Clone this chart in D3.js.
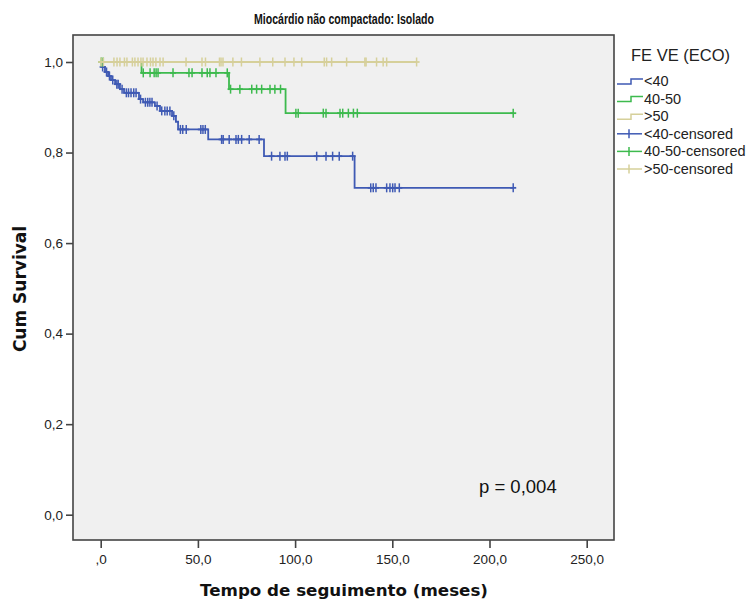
<!DOCTYPE html>
<html>
<head>
<meta charset="utf-8">
<script src="https://cdn.jsdelivr.net/npm/d3@7"></script>
<style>
  html, body { margin: 0; padding: 0; background: #ffffff; }
  svg { display: block; }
</style>
</head>
<body>
<svg id="chart" width="752" height="600"></svg>
<script>
// Kaplan–Meier survival by left-ventricular ejection fraction group
const groupNames = ["<40", "40-50", ">50"];
const groupColors = ["#3f5ab4", "#3dba4e", "#d6d09a"];

// <40: event times (months) and survival after each event
const lt40EventTimes = [0.7, 2.2, 3.8, 5.3, 7.4, 9.9, 12.0, 19.7, 21.8, 27.9, 30.5, 36.7, 38.7, 39.8, 55.3, 84.0, 130.6];
const lt40Survival   = [0.989, 0.978, 0.969, 0.960, 0.951, 0.940, 0.932, 0.918, 0.911, 0.903, 0.892, 0.881, 0.868, 0.851, 0.829, 0.792, 0.722];
const lt40Censored   = [1.0, 3.0, 4.5, 6.2, 8.3, 9.0, 11.0, 13.2, 14.3, 15.6, 17.0, 18.2, 20.5, 23.0, 24.2, 25.3, 26.4, 29.0, 31.4, 33.0, 34.2, 35.6, 37.6, 41.0, 42.2, 44.0, 51.5, 52.6, 53.8,
                        62.2, 63.0, 66.1, 69.6, 70.8, 72.5, 76.4, 81.5,
                        87.9, 92.2, 94.8, 96.0, 111.1, 115.9, 119.3, 122.7, 129.6,
                        138.9, 140.2, 141.6, 147.1, 148.8, 150.2, 151.4, 153.6, 212.2];

// 40-50
const mid40EventTimes = [21.0, 66.0, 95.1];
const mid40Survival   = [0.976, 0.940, 0.887];
const mid40Censored   = [0.3, 1.2, 21.9, 25.4, 27.5, 28.5, 29.5, 37.2, 45.4, 47.0, 52.1, 54.8, 56.2, 59.3, 65.1,
                         66.8, 71.6, 77.7, 80.2, 82.8, 87.1, 89.6, 92.5,
                         100.4, 101.6, 114.5, 115.9, 123.1, 124.5, 127.4, 130.0, 132.0, 212.2];

// >50 (no events)
const gt50EventTimes = [];
const gt50Survival   = [];
const gt50Censored   = [0.2, 1.4, 6.8, 8.4, 9.9, 12.2, 13.5, 16.3, 17.6, 19.2, 20.7, 21.8, 23.8, 25.6, 26.9, 28.4, 30.5, 32.1,
                        43.9, 52.1, 53.9, 61.1, 61.9, 62.9, 68.0, 72.4, 81.9, 88.5, 94.8, 99.4, 103.4,
                        115.0, 116.2, 118.8, 126.5, 135.9, 136.5, 141.9, 145.3, 147.1, 162.5];

const xTicks = [0, 50, 100, 150, 200, 250];
const yTicks = [0, 0.2, 0.4, 0.6, 0.8, 1.0];

const chartTitle = "Miocárdio não compactado: Isolado";
const xTitle = "Tempo de seguimento (meses)";
const yTitle = "Cum Survival";
const legendTitle = "FE VE (ECO)";
const pValueText = "p = 0,004";

const series = [
  { name: groupNames[0], color: groupColors[0], times: lt40EventTimes, surv: lt40Survival, cens: lt40Censored },
  { name: groupNames[1], color: groupColors[1], times: mid40EventTimes, surv: mid40Survival, cens: mid40Censored },
  { name: groupNames[2], color: groupColors[2], times: gt50EventTimes, surv: gt50Survival, cens: gt50Censored }
];

const svg = d3.select("#chart");

// plot frame
const frame = { left: 73, top: 35, right: 614, bottom: 540 };
const x = d3.scaleLinear().domain([0, 250]).range([100.7, 586.7]);
const y = d3.scaleLinear().domain([0, 1]).range([514.7, 62]);

const commaFmt = v => d3.format(".1f")(v).replace(".", ",");

svg.append("rect")
  .attr("x", frame.left).attr("y", frame.top)
  .attr("width", frame.right - frame.left).attr("height", frame.bottom - frame.top)
  .attr("fill", "#f0f0f0");

// axes
const xAxis = d3.axisBottom(x)
  .tickValues(xTicks)
  .tickSize(8)
  .tickSizeOuter(0)
  .tickPadding(4)
  .tickFormat(v => v === 0 ? ",0" : commaFmt(v));
const gx = svg.append("g").attr("transform", `translate(0,${frame.bottom})`).call(xAxis);
gx.select(".domain").remove();
gx.selectAll(".tick line").attr("stroke", "#444").attr("stroke-width", 1.6);
gx.selectAll(".tick text")
  .attr("font-family", "Liberation Sans, Arial, sans-serif")
  .attr("font-size", 13.5).attr("fill", "#222").attr("dy", "0.9em");

const yAxis = d3.axisLeft(y)
  .tickValues(yTicks)
  .tickSize(7)
  .tickSizeOuter(0)
  .tickPadding(3)
  .tickFormat(commaFmt);
const gy = svg.append("g").attr("transform", `translate(${frame.left},0)`).call(yAxis);
gy.select(".domain").remove();
gy.selectAll(".tick line").attr("stroke", "#444").attr("stroke-width", 1.6);
gy.selectAll(".tick text")
  .attr("font-family", "Liberation Sans, Arial, sans-serif")
  .attr("font-size", 13.5).attr("fill", "#222");

// survival value just after time t
function survAt(s, t) {
  let v = 1;
  for (let i = 0; i < s.times.length; i++) if (s.times[i] <= t) v = s.surv[i];
  return v;
}

// step curves and censoring marks
series.forEach(s => {
  const end = d3.max(s.cens);
  const pts = [[0, 1]];
  let cur = 1;
  s.times.forEach((t, i) => {
    pts.push([t, cur]);
    cur = s.surv[i];
    pts.push([t, cur]);
  });
  pts.push([end, cur]);

  const g = svg.append("g");
  g.append("path")
    .attr("d", d3.line().x(d => x(d[0])).y(d => y(d[1]))(pts))
    .attr("fill", "none")
    .attr("stroke", s.color)
    .attr("stroke-width", 1.8);

  g.selectAll("line.cens")
    .data(s.cens)
    .join("line")
    .attr("class", "cens")
    .attr("x1", d => x(d)).attr("x2", d => x(d))
    .attr("y1", d => y(survAt(s, d)) - 4.5)
    .attr("y2", d => y(survAt(s, d)) + 4.5)
    .attr("stroke", s.color)
    .attr("stroke-width", 1.5);

  g.selectAll("line.arm")
    .data(s.cens)
    .join("line")
    .attr("class", "arm")
    .attr("x1", d => x(d) - 3).attr("x2", d => x(d) + 3)
    .attr("y1", d => y(survAt(s, d)))
    .attr("y2", d => y(survAt(s, d)))
    .attr("stroke", s.color)
    .attr("stroke-width", 1.8);
});

// frame border
svg.append("rect")
  .attr("x", frame.left).attr("y", frame.top)
  .attr("width", frame.right - frame.left).attr("height", frame.bottom - frame.top)
  .attr("fill", "none").attr("stroke", "#444").attr("stroke-width", 1.6);

// p-value annotation
svg.append("text")
  .attr("x", 479).attr("y", 493)
  .attr("font-family", "Liberation Sans, Arial, sans-serif")
  .attr("font-size", 18.5).attr("fill", "#111")
  .text(pValueText);

// titles
svg.append("text")
  .attr("x", 344).attr("y", 24)
  .attr("text-anchor", "middle")
  .attr("font-family", "Liberation Sans, Arial, sans-serif")
  .attr("font-weight", "bold").attr("font-size", 14).attr("fill", "#111")
  .attr("textLength", 180).attr("lengthAdjust", "spacingAndGlyphs")
  .text(chartTitle);

svg.append("text")
  .attr("x", 344).attr("y", 596)
  .attr("text-anchor", "middle")
  .attr("font-family", "DejaVu Sans, Verdana, sans-serif")
  .attr("font-weight", "bold").attr("font-size", 16.7).attr("fill", "#111")
  .text(xTitle);

svg.append("text")
  .attr("transform", "translate(26,289) rotate(-90)")
  .attr("text-anchor", "middle")
  .attr("font-family", "DejaVu Sans, Verdana, sans-serif")
  .attr("font-weight", "bold").attr("font-size", 17).attr("fill", "#111")
  .text(yTitle);

// legend
const legend = svg.append("g");
legend.append("text")
  .attr("x", 631).attr("y", 61)
  .attr("font-family", "Liberation Sans, Arial, sans-serif")
  .attr("font-size", 16.5).attr("fill", "#222")
  .text(legendTitle);

const legendItems = [
  ...series.map(s => ({ label: s.name, color: s.color, kind: "step" })),
  ...series.map(s => ({ label: s.name + "-censored", color: s.color, kind: "cens" }))
];
const rowY = d3.scaleLinear().domain([0, 5]).range([81, 169]);

legendItems.forEach((it, i) => {
  const cy = rowY(i);
  const g = legend.append("g");
  if (it.kind === "step") {
    g.append("path")
      .attr("d", `M617,${cy + 3}H631V${cy - 2}H643`)
      .attr("fill", "none").attr("stroke", it.color).attr("stroke-width", 1.5);
  } else {
    g.append("line").attr("x1", 617).attr("x2", 642).attr("y1", cy).attr("y2", cy)
      .attr("stroke", it.color).attr("stroke-width", 1.5);
    g.append("line").attr("x1", 629).attr("x2", 629).attr("y1", cy - 4.5).attr("y2", cy + 4.5)
      .attr("stroke", it.color).attr("stroke-width", 1.5);
  }
  g.append("text")
    .attr("x", 644).attr("y", cy + 5)
    .attr("font-family", "Liberation Sans, Arial, sans-serif")
    .attr("font-size", 14.5).attr("fill", "#222")
    .text(it.label);
});
</script>
</body>
</html>
